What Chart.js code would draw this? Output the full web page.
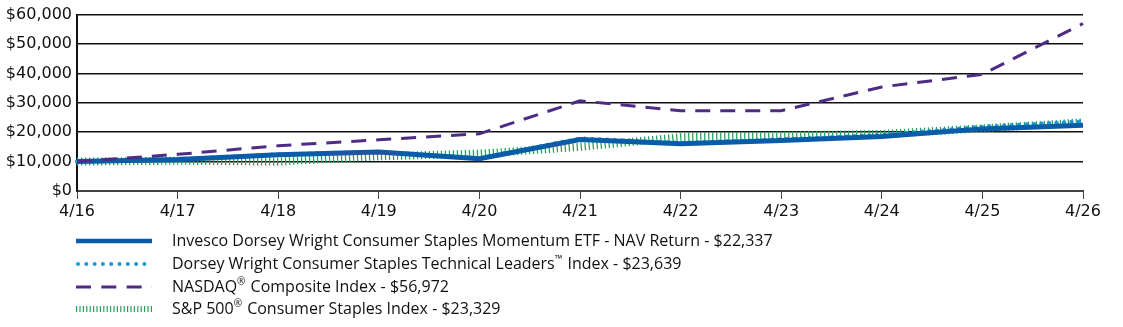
<!DOCTYPE html>
<html>
<head>
<meta charset="utf-8">
<script src="https://cdn.jsdelivr.net/npm/chart.js@4"></script>
<style>
  html, body { margin: 0; padding: 0; background: #fff; }
  #wrap { width: 1123px; height: 327px; position: relative; }
</style>
</head>
<body>
<div id="wrap"><canvas id="growthChart"></canvas></div>
<script>
// data
const years = ["4/16", "4/17", "4/18", "4/19", "4/20", "4/21", "4/22", "4/23", "4/24", "4/25", "4/26"];
const fundValues = [10000, 10680, 12370, 13250, 11000, 17530, 16070, 17190, 18540, 21130, 22337];
const indexValues = [10000, 10700, 12400, 13300, 11100, 17800, 16300, 17500, 19000, 21800, 23639];
const nasdaqValues = [10000, 12470, 15400, 17420, 19450, 30670, 27300, 27300, 35390, 39660, 56972];
const spValues = [10000, 10300, 10000, 11800, 12700, 15000, 18300, 18900, 19400, 21300, 23329];
const yTicks = [0, 10000, 20000, 30000, 40000, 50000, 60000];

const seriesNames = [
    "Invesco Dorsey Wright Consumer Staples Momentum ETF - NAV Return - $22,337",
    "Dorsey Wright Consumer Staples Technical Leaders\u2122 Index - $23,639",
    "NASDAQ\u00ae Composite Index - $56,972",
    "S&P 500\u00ae Consumer Staples Index - $23,329"
];

// legend drawn on the canvas, using each dataset's own line style
const legendPlugin = {
    id: "bottomLegend",
    afterDraw(chart) {
        const ctx = chart.ctx;
        const rows = [241, 264, 287, 309];
        const mainFont = "16px 'Open Sans'";
        const supFont = "10px 'Open Sans'";
        ctx.save();
        chart.data.datasets.forEach((ds, r) => {
            const y = rows[r];
            ctx.beginPath();
            ctx.strokeStyle = ds.borderColor;
            ctx.lineWidth = ds.legendWidth || ds.borderWidth;
            ctx.lineCap = ds.borderCapStyle || "butt";
            ctx.setLineDash(ds.legendDash || ds.borderDash || []);
            ctx.moveTo(ds.legendStart || 76, y);
            ctx.lineTo(152, y);
            ctx.stroke();
            ctx.setLineDash([]);

            // text, with ™ and ® as small superscripts
            ctx.fillStyle = "#111";
            ctx.textBaseline = "middle";
            let x = 172;
            ds.label.split(/([\u2122\u00ae])/).forEach(part => {
                if (!part) return;
                const sup = part === "\u2122" || part === "\u00ae";
                ctx.font = sup ? supFont : mainFont;
                ctx.fillText(part, x, sup ? y - 5 : y);
                x += ctx.measureText(part).width + (sup ? 1 : 0);
            });
        });
        ctx.restore();
    }
};

new Chart(document.getElementById("growthChart"), {
    type: "line",
    data: {
        labels: years,
        datasets: [
            {
                label: seriesNames[0],
                data: fundValues,
                borderColor: "#0b5ca8",
                borderWidth: 5,
                legendWidth: 4.5,
                order: 1
            },
            {
                label: seriesNames[1],
                data: indexValues,
                borderColor: "#1c9ad6",
                borderWidth: 4.5,
                borderCapStyle: "round",
                borderDash: [0, 7.5],
                legendWidth: 4,
                legendDash: [0, 8.3],
                legendStart: 78,
                order: 2
            },
            {
                label: seriesNames[2],
                data: nasdaqValues,
                borderColor: "#4e2c85",
                borderWidth: 3,
                borderDash: [15, 10],
                legendDash: [15, 10.3],
                order: 0
            },
            {
                label: seriesNames[3],
                data: spValues,
                borderColor: "#25a35c",
                borderWidth: 8,
                borderDash: [1.3, 2.7],
                legendWidth: 6,
                legendDash: [1.2, 2.2],
                order: 3
            }
        ]
    },
    options: {
        responsive: true,
        maintainAspectRatio: false,
        animation: false,
        elements: {
            point: { radius: 0 },
            line: { tension: 0, fill: false }
        },
        layout: { padding: { top: 13, right: 40, bottom: 102, left: 0 } },
        plugins: {
            legend: { display: false },
            tooltip: { enabled: false }
        },
        scales: {
            x: {
                offset: false,
                grid: {
                    drawOnChartArea: false,
                    drawTicks: true,
                    tickLength: 8,
                    color: "#444"
                },
                border: { color: "#444", width: 2 },
                ticks: {
                    color: "#111",
                    font: { family: "'DejaVu Sans'", size: 16 },
                    maxRotation: 0,
                    autoSkip: false,
                    padding: 3
                },
                afterFit(scale) { scale.height = 34; }
            },
            y: {
                min: 0,
                max: 60000,
                afterBuildTicks(scale) {
                    scale.ticks = yTicks.map(v => ({ value: v }));
                },
                grid: {
                    color: "#111",
                    lineWidth: 1.5,
                    drawTicks: false
                },
                border: { color: "#111", width: 2 },
                ticks: {
                    color: "#111",
                    padding: 5,
                    font: { family: "'DejaVu Sans'", size: 16 },
                    callback: v => "$" + v.toLocaleString("en-US")
                },
                afterFit(scale) { scale.width = 77; }
            }
        }
    },
    plugins: [legendPlugin]
});
</script>
</body>
</html>
